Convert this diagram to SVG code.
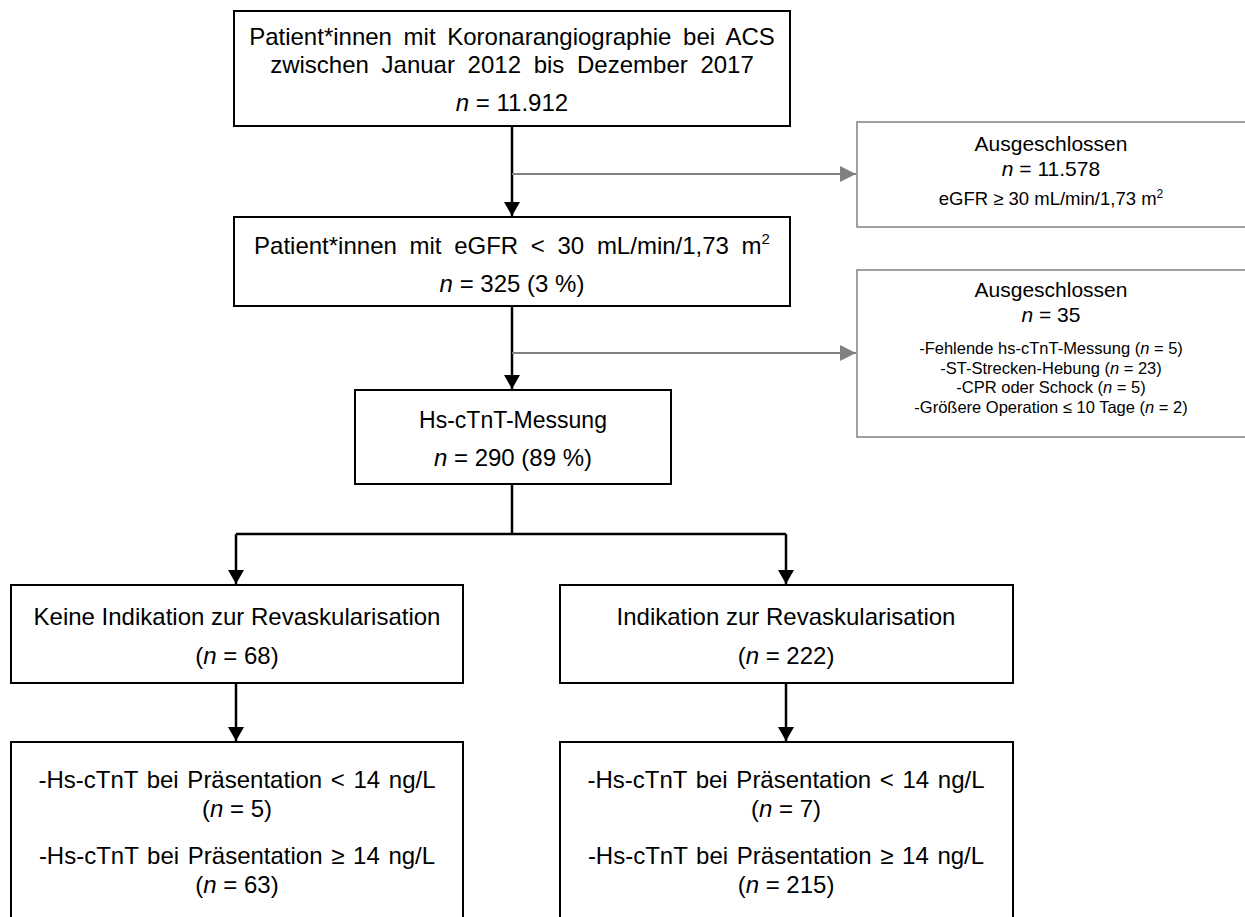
<svg xmlns="http://www.w3.org/2000/svg" width="1245" height="917" viewBox="0 0 1245 917">
<defs>
<style>
.box{fill:#fff;stroke:#000;stroke-width:2}
.gbox{fill:#fff;stroke:#808080;stroke-width:1.5}
.t{font-family:"Liberation Sans",Arial,sans-serif;font-size:24px;fill:#000;text-anchor:middle}
.ts{font-family:"Liberation Sans",Arial,sans-serif;font-size:21px;fill:#000;text-anchor:middle}
.tl{font-family:"Liberation Sans",Arial,sans-serif;font-size:16.5px;fill:#000;text-anchor:middle}
.i{font-style:italic}
.ln{stroke:#000;stroke-width:2.5;fill:none}
.gl{stroke:#808080;stroke-width:2;fill:none}
</style>
<marker id="ab" viewBox="0 0 14 16" refX="14" refY="8" markerUnits="userSpaceOnUse" markerWidth="14" markerHeight="16" orient="auto">
<path d="M0,0 L14,8 L0,16 Z" fill="#000"/>
</marker>
<marker id="ag" viewBox="0 0 16 16" refX="16" refY="8" markerUnits="userSpaceOnUse" markerWidth="16" markerHeight="16" orient="auto">
<path d="M0,0 L16,8 L0,16 Z" fill="#808080"/>
</marker>
</defs>
<rect width="1245" height="917" fill="#fff"/>

<g id="connectors">
<line class="ln" x1="512" y1="126" x2="512" y2="216" marker-end="url(#ab)"/>
<line class="gl" x1="512" y1="174" x2="856" y2="174" marker-end="url(#ag)"/>
<line class="ln" x1="512" y1="306" x2="512" y2="389" marker-end="url(#ab)"/>
<line class="gl" x1="512" y1="353" x2="856" y2="353" marker-end="url(#ag)"/>
<line class="ln" x1="512" y1="484" x2="512" y2="534"/>
<line class="ln" x1="236" y1="534" x2="786" y2="534"/>
<line class="ln" x1="236" y1="534" x2="236" y2="584" marker-end="url(#ab)"/>
<line class="ln" x1="786" y1="534" x2="786" y2="584" marker-end="url(#ab)"/>
<line class="ln" x1="236" y1="683" x2="236" y2="741" marker-end="url(#ab)"/>
<line class="ln" x1="786" y1="683" x2="786" y2="741" marker-end="url(#ab)"/>
</g>

<g id="n-start">
<rect class="box" x="234" y="11" width="556" height="115"/>
<text class="t" x="512" y="45" word-spacing="5">Patient*innen mit Koronarangiographie bei ACS</text>
<text class="t" x="512" y="73" word-spacing="6">zwischen Januar 2012 bis Dezember 2017</text>
<text class="t" x="512" y="111"><tspan class="i">n</tspan> = 11.912</text>
</g>

<g id="n-excl1">
<rect class="gbox" x="857" y="122" width="400" height="105"/>
<text class="ts" x="1051" y="151">Ausgeschlossen</text>
<text class="ts" x="1051" y="176"><tspan class="i">n</tspan> = 11.578</text>
<text class="tl" x="1051" y="205" style="font-size:18.5px">eGFR ≥ 30 mL/min/1,73 m<tspan style="font-size:12px" dy="-7">2</tspan></text>
</g>

<g id="n-egfr">
<rect class="box" x="234" y="217" width="556" height="89"/>
<text class="t" x="512" y="254" word-spacing="6">Patient*innen mit eGFR &lt; 30 mL/min/1,73 m<tspan style="font-size:15px" dy="-10">2</tspan></text>
<text class="t" x="512" y="292"><tspan class="i">n</tspan> = 325 (3 %)</text>
</g>

<g id="n-excl2">
<rect class="gbox" x="857" y="270" width="400" height="167"/>
<text class="ts" x="1051" y="297">Ausgeschlossen</text>
<text class="ts" x="1051" y="322"><tspan class="i">n</tspan> = 35</text>
<text class="tl" x="1051" y="354">-Fehlende hs-cTnT-Messung (<tspan class="i">n</tspan> = 5)</text>
<text class="tl" x="1051" y="374">-ST-Strecken-Hebung (<tspan class="i">n</tspan> = 23)</text>
<text class="tl" x="1051" y="393">-CPR oder Schock (<tspan class="i">n</tspan> = 5)</text>
<text class="tl" x="1051" y="413">-Größere Operation ≤ 10 Tage (<tspan class="i">n</tspan> = 2)</text>
</g>

<g id="n-hs">
<rect class="box" x="355" y="390" width="316" height="94"/>
<text class="t" x="513" y="428" style="font-size:23px">Hs-cTnT-Messung</text>
<text class="t" x="513" y="466"><tspan class="i">n</tspan> = 290 (89 %)</text>
</g>

<g id="n-norevasc">
<rect class="box" x="11" y="585" width="452" height="98"/>
<text class="t" x="237" y="625">Keine Indikation zur Revaskularisation</text>
<text class="t" x="237" y="664">(<tspan class="i">n</tspan> = 68)</text>
</g>

<g id="n-revasc">
<rect class="box" x="560" y="585" width="453" height="98"/>
<text class="t" x="786" y="625">Indikation zur Revaskularisation</text>
<text class="t" x="786" y="664">(<tspan class="i">n</tspan> = 222)</text>
</g>

<g id="n-left-res">
<rect class="box" x="11" y="742" width="452" height="185"/>
<text class="t" x="237" y="788" word-spacing="2">-Hs-cTnT bei Präsentation &lt; 14 ng/L</text>
<text class="t" x="237" y="817">(<tspan class="i">n</tspan> = 5)</text>
<text class="t" x="237" y="864" word-spacing="2">-Hs-cTnT bei Präsentation ≥ 14 ng/L</text>
<text class="t" x="237" y="893">(<tspan class="i">n</tspan> = 63)</text>
</g>

<g id="n-right-res">
<rect class="box" x="560" y="742" width="453" height="185"/>
<text class="t" x="786" y="788" word-spacing="2">-Hs-cTnT bei Präsentation &lt; 14 ng/L</text>
<text class="t" x="786" y="817">(<tspan class="i">n</tspan> = 7)</text>
<text class="t" x="786" y="864" word-spacing="2">-Hs-cTnT bei Präsentation ≥ 14 ng/L</text>
<text class="t" x="786" y="893">(<tspan class="i">n</tspan> = 215)</text>
</g>
</svg>
